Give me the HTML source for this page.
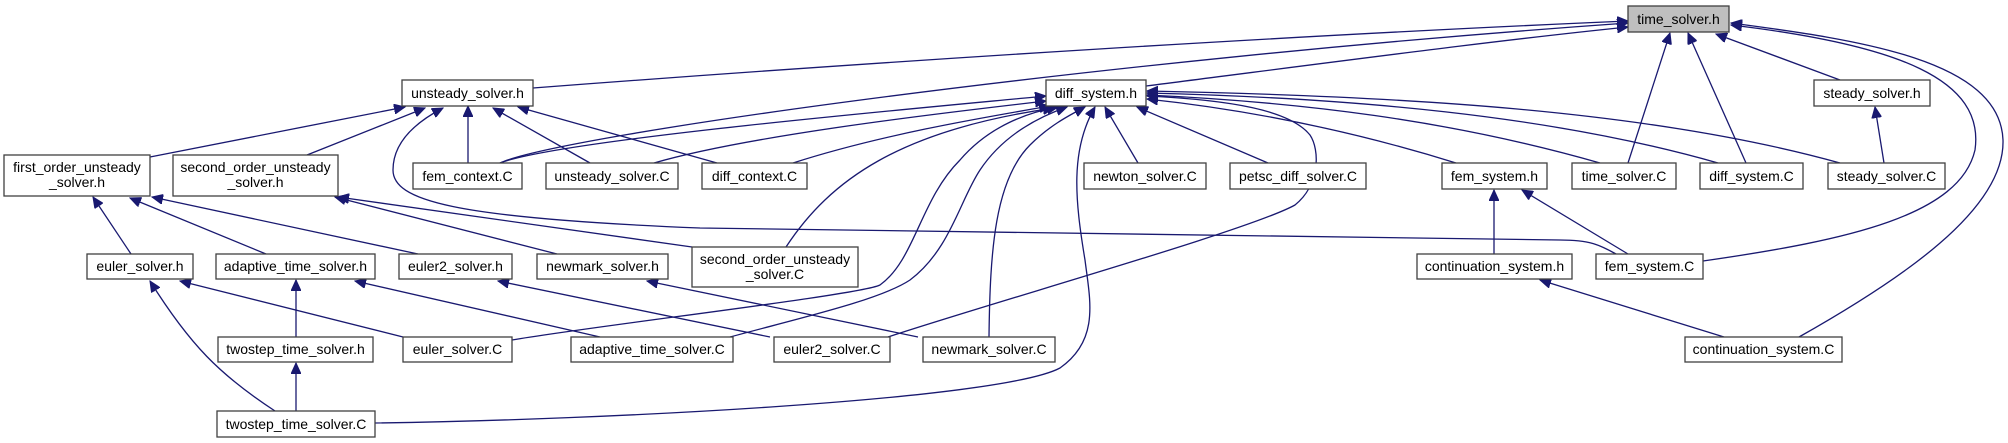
<!DOCTYPE html>
<html><head><meta charset="utf-8"><style>
html,body{margin:0;padding:0;background:#fff;}
svg{display:block;}
text{font-family:"Liberation Sans",Arial,sans-serif;font-size:14px;fill:#000;}
</style></head><body>
<svg width="2008" height="443" viewBox="0 0 2008 443" xmlns="http://www.w3.org/2000/svg">
<defs>
<marker id="a" markerUnits="userSpaceOnUse" markerWidth="12" markerHeight="10" refX="11" refY="5" orient="auto">
<path d="M0,0 L11,5 L0,10 z" fill="#191970" stroke="#191970"/>
</marker>
</defs>
<g fill="none" stroke="#191970" stroke-width="1.3" marker-end="url(#a)">
<!-- to time_solver.h -->
<path d="M533,88 C900,60 1300,35 1628,21"/>
<path d="M1146,86 C1350,60 1500,40 1628,27"/>
<path d="M500,163 C560,135 1100,60 1628,23"/>
<path d="M1840,80 L1716,34"/>
<path d="M1628,163 L1670,33"/>
<path d="M1746,163 L1688,33"/>
<path d="M1703,261 C1850,240 1960,215 1975,150 C1985,80 1900,45 1731,25"/>
<path d="M1799,337 C1900,280 2005,210 2003,140 C2000,60 1860,40 1731,23"/>
<!-- to unsteady_solver.h -->
<path d="M150,157 L405,107"/>
<path d="M307,155 L425,108"/>
<path d="M468,163 L468,106"/>
<path d="M590,163 L493,108"/>
<path d="M717,163 L518,107"/>
<path d="M1616,254 C1600,245 1590,240 1560,240 L700,228 C450,218 393,200 393,170 C393,140 420,120 443,108"/>
<!-- to diff_system.h -->
<path d="M500,163 C560,140 900,110 1046,96"/>
<path d="M654,163 C750,135 950,112 1046,101"/>
<path d="M793,163 C880,135 980,118 1050,106"/>
<path d="M786,247 C830,180 900,130 1054,108"/>
<path d="M512,340 C600,325 860,295 880,285 C915,260 920,200 960,160 C990,125 1030,112 1058,107"/>
<path d="M730,337 C800,318 880,300 910,280 C950,250 960,200 980,170 C1000,140 1030,120 1067,107"/>
<path d="M989,337 C990,250 995,180 1030,145 C1050,125 1070,115 1085,107"/>
<path d="M375,423 C600,420 1000,400 1060,368 C1100,340 1090,300 1085,260 C1075,200 1070,150 1095,107"/>
<path d="M1138,163 L1105,107"/>
<path d="M1268,163 L1137,107"/>
<path d="M888,337 C1000,300 1250,230 1295,205 C1320,185 1320,150 1310,135 C1290,110 1230,100 1147,96"/>
<path d="M1456,163 C1350,130 1250,110 1147,99"/>
<path d="M1600,163 C1450,120 1300,102 1147,95"/>
<path d="M1718,163 C1550,115 1350,98 1147,93"/>
<path d="M1840,163 C1650,110 1400,96 1147,91"/>
<!-- first_order -->
<path d="M131,254 L93,197"/>
<path d="M266,254 L130,198"/>
<path d="M418,254 L152,197"/>
<!-- second_order -->
<path d="M557,254 L335,197"/>
<path d="M692,247 L338,197"/>
<!-- euler_solver.h -->
<path d="M403,337 L180,281"/>
<path d="M275,411 C220,375 190,345 150,281"/>
<!-- adaptive_time_solver.h -->
<path d="M296,337 L296,280"/>
<path d="M600,337 L355,281"/>
<!-- others -->
<path d="M770,337 L498,281"/>
<path d="M918,337 L647,281"/>
<path d="M296,411 L296,363"/>
<path d="M1884,163 L1875,107"/>
<path d="M1494,254 L1494,190"/>
<path d="M1628,254 L1522,190"/>
<path d="M1724,337 L1540,280"/>
</g>
<g stroke="#404040" stroke-width="1.3" fill="#fff">
<rect x="1628" y="6" width="101" height="26" fill="#bfbfbf"/>
<rect x="402" y="80" width="131" height="26"/>
<rect x="1046" y="80" width="100" height="26"/>
<rect x="1814" y="80" width="116" height="26"/>
<rect x="4" y="155" width="146" height="41"/>
<rect x="173" y="155" width="165" height="41"/>
<rect x="413" y="163" width="109" height="26"/>
<rect x="546" y="163" width="132" height="26"/>
<rect x="702" y="163" width="105" height="26"/>
<rect x="1084" y="163" width="122" height="26"/>
<rect x="1230" y="163" width="136" height="26"/>
<rect x="1442" y="163" width="105" height="26"/>
<rect x="1572" y="163" width="104" height="26"/>
<rect x="1700" y="163" width="103" height="26"/>
<rect x="1828" y="163" width="117" height="26"/>
<rect x="692" y="247" width="166" height="40"/>
<rect x="87" y="254" width="106" height="25"/>
<rect x="216" y="254" width="159" height="25"/>
<rect x="399" y="254" width="113" height="25"/>
<rect x="537" y="254" width="131" height="25"/>
<rect x="1417" y="254" width="155" height="25"/>
<rect x="1596" y="254" width="107" height="25"/>
<rect x="218" y="337" width="155" height="25"/>
<rect x="403" y="337" width="109" height="25"/>
<rect x="571" y="337" width="162" height="25"/>
<rect x="774" y="337" width="116" height="25"/>
<rect x="923" y="337" width="132" height="25"/>
<rect x="1685" y="337" width="157" height="25"/>
<rect x="217" y="411" width="158" height="26"/>
</g>
<g text-anchor="middle">
<text x="1678.5" y="24">time_solver.h</text>
<text x="467.5" y="98">unsteady_solver.h</text>
<text x="1096" y="98">diff_system.h</text>
<text x="1872" y="98">steady_solver.h</text>
<text x="77" y="172">first_order_unsteady</text>
<text x="77" y="187">_solver.h</text>
<text x="255.5" y="172">second_order_unsteady</text>
<text x="255.5" y="187">_solver.h</text>
<text x="467.5" y="181">fem_context.C</text>
<text x="612" y="181">unsteady_solver.C</text>
<text x="754.5" y="181">diff_context.C</text>
<text x="1145" y="181">newton_solver.C</text>
<text x="1298" y="181">petsc_diff_solver.C</text>
<text x="1494.5" y="181">fem_system.h</text>
<text x="1624" y="181">time_solver.C</text>
<text x="1751.5" y="181">diff_system.C</text>
<text x="1886.5" y="181">steady_solver.C</text>
<text x="775" y="264">second_order_unsteady</text>
<text x="775" y="279">_solver.C</text>
<text x="140" y="271">euler_solver.h</text>
<text x="295.5" y="271">adaptive_time_solver.h</text>
<text x="455.5" y="271">euler2_solver.h</text>
<text x="602.5" y="271">newmark_solver.h</text>
<text x="1494.5" y="271">continuation_system.h</text>
<text x="1649.5" y="271">fem_system.C</text>
<text x="295.5" y="354">twostep_time_solver.h</text>
<text x="457.5" y="354">euler_solver.C</text>
<text x="652" y="354">adaptive_time_solver.C</text>
<text x="832" y="354">euler2_solver.C</text>
<text x="989" y="354">newmark_solver.C</text>
<text x="1763.5" y="354">continuation_system.C</text>
<text x="296" y="429">twostep_time_solver.C</text>
</g>
</svg>
</body></html>
